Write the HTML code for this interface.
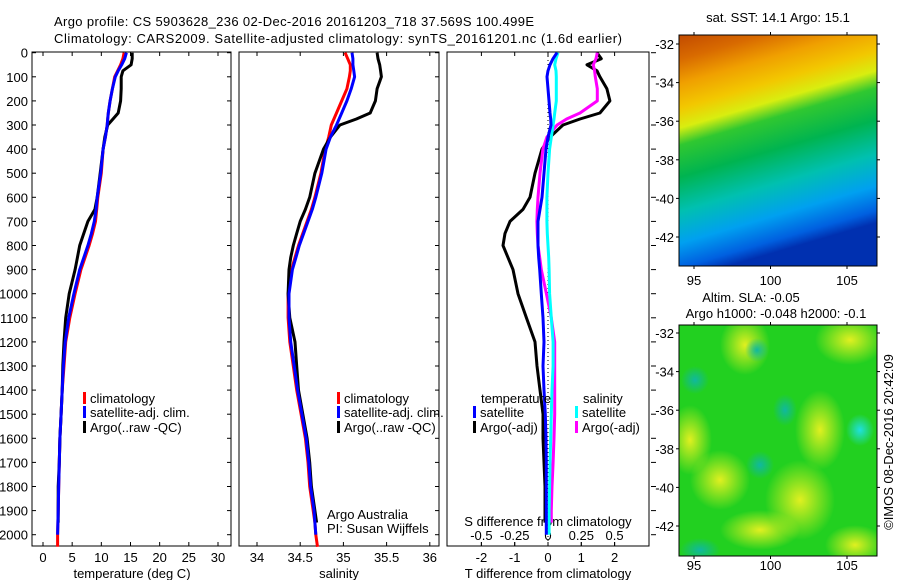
<!DOCTYPE html>
<html><head><meta charset="utf-8"><style>
body{margin:0;background:#fff;}
svg text{font-family:"Liberation Sans",sans-serif;font-size:13px;fill:#000;}
</style></head><body>
<svg id="c" width="900" height="580" viewBox="0 0 900 580" xmlns="http://www.w3.org/2000/svg">
<defs>
<linearGradient id="sst" x1="0" y1="0" x2="0.25" y2="1">
<stop offset="0" stop-color="#c24a00"/><stop offset="0.1" stop-color="#d86a00"/><stop offset="0.2" stop-color="#f0a000"/>
<stop offset="0.3" stop-color="#f2c800"/><stop offset="0.38" stop-color="#d8ee10"/><stop offset="0.45" stop-color="#30c830"/>
<stop offset="0.58" stop-color="#00b450"/><stop offset="0.72" stop-color="#00c0b0"/><stop offset="0.85" stop-color="#00a0f0"/>
<stop offset="0.95" stop-color="#0060e0"/><stop offset="1" stop-color="#0030b0"/>
</linearGradient>
<radialGradient id="yb"><stop offset="0" stop-color="#e0f020"/><stop offset="1" stop-color="#e0f020" stop-opacity="0"/></radialGradient>
<radialGradient id="tb"><stop offset="0" stop-color="#10b8a0"/><stop offset="1" stop-color="#10b8a0" stop-opacity="0"/></radialGradient>
<radialGradient id="cb"><stop offset="0" stop-color="#20e0e0"/><stop offset="1" stop-color="#20e0e0" stop-opacity="0"/></radialGradient>
<clipPath id="m2c"><rect x="679" y="325" width="198" height="231"/></clipPath>
</defs>
<text x="54" y="26" textLength="480">Argo profile: CS 5903628_236 02-Dec-2016 20161203_718 37.569S 100.499E</text>
<text x="54" y="43" textLength="568">Climatology: CARS2009. Satellite-adjusted climatology: synTS_20161201.nc (1.6d earlier)</text>
<g id="g"></g>
<g>
<text x="778" y="22" text-anchor="middle">sat. SST: 14.1 Argo: 15.1</text>
<rect x="679" y="35" width="198" height="231" fill="url(#sst)"/>
<rect x="679" y="35" width="198" height="231" fill="none" stroke="#000"/>
</g>
<g>
<text x="751" y="302" text-anchor="middle">Altim. SLA: -0.05</text>
<text x="776" y="318" text-anchor="middle">Argo h1000: -0.048 h2000: -0.1</text>
<g clip-path="url(#m2c)">
<rect x="679" y="325" width="198" height="231" fill="#22d020"/>
<ellipse cx="690" cy="440" rx="22" ry="35" fill="url(#yb)"/>
<ellipse cx="745" cy="345" rx="25" ry="30" fill="url(#yb)"/>
<ellipse cx="850" cy="340" rx="35" ry="25" fill="url(#yb)"/>
<ellipse cx="820" cy="430" rx="25" ry="40" fill="url(#yb)"/>
<ellipse cx="800" cy="500" rx="35" ry="40" fill="url(#yb)"/>
<ellipse cx="760" cy="530" rx="40" ry="20" fill="url(#yb)"/>
<ellipse cx="720" cy="480" rx="30" ry="30" fill="url(#yb)"/>
<ellipse cx="855" cy="545" rx="30" ry="20" fill="url(#yb)"/>
<ellipse cx="757" cy="350" rx="12" ry="12" fill="url(#tb)"/>
<ellipse cx="785" cy="410" rx="12" ry="16" fill="url(#tb)"/>
<ellipse cx="695" cy="380" rx="14" ry="14" fill="url(#tb)"/>
<ellipse cx="760" cy="465" rx="14" ry="14" fill="url(#tb)"/>
<ellipse cx="700" cy="550" rx="20" ry="12" fill="url(#tb)"/>
<ellipse cx="860" cy="430" rx="14" ry="16" fill="url(#cb)"/>
</g>
<rect x="679" y="325" width="198" height="231" fill="none" stroke="#000"/>
</g>
<text transform="translate(893,442) rotate(-90)" text-anchor="middle">©IMOS 08-Dec-2016 20:42:09</text>
</svg>
<script>
const depths=[0,25,50,75,100,150,200,250,275,300,350,400,500,600,650,700,750,800,850,900,1000,1100,1200,1300,1400,1500,1600,1700,1800,1900,1950,2000,2050];
const tClim=[13.9,13.7,13.3,12.8,12.3,11.9,11.5,11.2,11.1,11.0,10.7,10.3,10.0,9.4,9.2,9.0,8.5,7.9,7.2,6.5,5.5,4.6,3.9,3.6,3.3,3.1,2.9,2.8,2.7,2.6,2.55,2.5,2.5];
const tSat=[14.3,14.0,13.5,12.9,12.4,11.9,11.5,11.2,11.1,11.0,10.7,10.3,9.9,9.3,9.1,8.8,8.3,7.7,7.0,6.3,5.3,4.4,3.8,3.5,3.3,3.1,2.9,2.8,2.7,2.6,2.55,2.5,null];
const tArgo=[15.3,15.3,15.1,13.7,13.4,13.4,13.3,12.9,12.0,11.1,10.6,10.3,9.8,9.3,8.9,7.7,7.0,6.3,5.9,5.5,4.5,3.9,3.6,3.4,3.3,3.1,2.9,2.8,2.6,2.6,2.6,null,null];
const sClim=[35.02,35.05,35.08,35.08,35.07,35.04,34.98,34.92,34.89,34.86,34.83,34.79,34.74,34.67,34.63,34.58,34.53,34.48,34.44,34.40,34.36,34.36,34.38,34.42,34.46,34.51,34.56,34.59,34.61,34.65,34.67,34.68,34.70];
const sSat=[35.10,35.11,35.11,35.12,35.13,35.09,35.04,34.98,34.95,34.92,34.85,34.80,34.75,34.68,34.64,34.59,34.54,34.49,34.45,34.41,34.37,34.37,34.39,34.43,34.47,34.52,34.57,34.60,34.62,34.66,34.67,34.68,null];
const sArgo=[35.39,35.40,35.42,35.43,35.44,35.39,35.37,35.31,35.15,34.96,34.85,34.77,34.67,34.61,34.56,34.50,34.46,34.42,34.39,34.37,34.36,34.38,34.44,34.46,34.48,34.53,34.58,34.61,34.63,34.67,34.69,null,null];
const dTsat=[0.27,0.15,0.06,0.0,-0.03,0.0,0.03,0.06,0.08,0.09,0.0,-0.06,-0.12,-0.18,-0.24,-0.3,-0.3,-0.3,-0.28,-0.25,-0.2,-0.15,-0.12,-0.15,-0.12,-0.08,-0.06,-0.05,-0.05,-0.05,-0.05,-0.05,null];
const dTargo=[1.47,1.6,1.17,1.47,1.56,1.77,1.86,1.56,0.96,0.45,0.06,-0.18,-0.39,-0.54,-0.75,-1.14,-1.29,-1.35,-1.2,-1.05,-0.9,-0.65,-0.39,-0.33,-0.24,-0.15,-0.15,-0.12,-0.09,-0.09,-0.09,null,null];
const dSsat=[0.075,0.06,0.05,0.06,0.062,0.062,0.062,0.05,0.045,0.038,0.025,0.012,0,-0.008,-0.008,-0.008,-0.005,0,0.005,0.008,0.012,0.025,0.038,0.038,0.03,0.025,0.02,0.015,0.012,0.008,0.008,0.008,null];
const dSargo=[0.37,0.36,0.34,0.35,0.355,0.37,0.37,0.24,0.14,0.068,-0.008,-0.038,-0.06,-0.075,-0.08,-0.083,-0.08,-0.075,-0.062,-0.05,-0.012,0.025,0.05,0.05,0.05,0.05,0.045,0.038,0.03,0.025,0.025,null,null];
const depthTicks=[0,100,200,300,400,500,600,700,800,900,1000,1100,1200,1300,1400,1500,1600,1700,1800,1900,2000];
const tTicks=[0,5,10,15,20,25,30];
const sTicks=[34,34.5,35,35.5,36];
const dTTicks=[-2,-1,0,1,2];
const dSTicks=[-0.5,-0.25,0,0.25,0.5];
const NS='http://www.w3.org/2000/svg';
const g=document.getElementById('g');
function el(t,a,p){const e=document.createElementNS(NS,t);for(const k in a)e.setAttribute(k,a[k]);(p||g).appendChild(e);return e;}
const Y=d=>52.7+d*0.241;
const xT=v=>43+v*5.833;
const xS=v=>257+(v-34)*86.4;
const xD=v=>548+v*33.3;
const xDS=v=>548+v*4*33.3;
const panels=[[32,231],[239,439],[447,649]];
const pTop=52,pBot=546;
panels.forEach((p,i)=>{
  const r=el('rect',{x:p[0],y:pTop,width:p[1]-p[0],height:pBot-pTop,fill:'none',stroke:'#000','stroke-width':1});
  
  
  depthTicks.forEach(d=>{
    const t=el('line',{x1:i==2?p[1]+2:p[1]-4,x2:i==2?p[1]+7:p[1],y1:Y(d),y2:Y(d),stroke:'#000'});
    
    
    if(i==0){const l=el('line',{x1:p[0],x2:p[0]+4,y1:Y(d),y2:Y(d),stroke:'#000'});
      
      }
  });
});
depthTicks.forEach(d=>{
  const t=el('text',{x:28,y:Y(d)+5,'text-anchor':'end'});t.textContent=d;
  
  
});
function xAxis(ticks,fx,yLab,name){
  ticks.forEach(v=>{
    el('line',{x1:fx(v),x2:fx(v),y1:pBot,y2:pBot-4,stroke:'#000'});
    el('line',{x1:fx(v),x2:fx(v),y1:pTop,y2:pTop+4,stroke:'#000'});
    const t=el('text',{x:fx(v),y:yLab,'text-anchor':'middle'});t.textContent=v;
    
    
  });
}
xAxis(tTicks,xT,562,'temperature');
xAxis(sTicks,xS,562,'salinity');
xAxis(dTTicks,xD,562,'t-diff');
dSTicks.forEach(v=>{
  el('line',{x1:xDS(v),x2:xDS(v),y1:pBot,y2:pBot-4,stroke:'#000'});
  const t=el('text',{x:xDS(v),y:540,'text-anchor':'middle'});t.textContent=v;
  
  
});
function lbl(x,y,s,name,anc){const t=el('text',{x:x,y:y,'text-anchor':anc||'start'});t.textContent=s;
  
  return t;}
lbl(132,578,'temperature (deg C)','x-axis-title-temperature','middle');
lbl(339,578,'salinity','x-axis-title-salinity','middle');
lbl(548,578,'T difference from climatology','x-axis-title-t-diff','middle');
lbl(548,526,'S difference from climatology','x-axis-title-s-diff','middle');
lbl(327,519,'Argo Australia','credit-argo-australia');
lbl(327,533,'PI: Susan Wijffels','credit-pi');
const z=el('line',{x1:548,x2:548,y1:pTop,y2:pBot,stroke:'#000','stroke-dasharray':'1,3'});


function series(vals,fx,color,name){
  const pts=[];vals.forEach((v,i)=>{if(v!==null)pts.push(fx(v).toFixed(1)+','+Y(depths[i]).toFixed(1));});
  const p=el('polyline',{points:pts.join(' '),fill:'none',stroke:color,'stroke-width':3,'stroke-linejoin':'round'});
  
  
}
series(tClim,xT,'#ff0000','temp-climatology-line');
series(tArgo,xT,'#000','temp-argo-line');
series(tSat,xT,'#0000ff','temp-satellite-line');
series(sClim,xS,'#ff0000','sal-climatology-line');
series(sArgo,xS,'#000','sal-argo-line');
series(sSat,xS,'#0000ff','sal-satellite-line');
series(dTargo,xD,'#000','tdiff-argo-line');
series(dSargo,xDS,'#ff00ff','sdiff-argo-line');
series(dSsat,xDS,'#00ffff','sdiff-satellite-line');
series(dTsat,xD,'#0000ff','tdiff-satellite-line');
function leg(x,y,c,s,name){
  const m=el('rect',{x:x,y:y-11,width:3,height:12,fill:c});
  
  
  lbl(x+7,y,s,name);
}
leg(83,403,'#ff0000','climatology','legend-climatology');
leg(83,417,'#0000ff','satellite-adj. clim.','legend-satellite');
leg(83,432,'#000','Argo(..raw -QC)','legend-argo');
leg(337,403,'#ff0000','climatology','legend2-climatology');
leg(337,417,'#0000ff','satellite-adj. clim.','legend2-satellite');
leg(337,432,'#000','Argo(..raw -QC)','legend2-argo');
lbl(481,403,'temperature','legend3-temperature-header');
lbl(583,403,'salinity','legend3-salinity-header');
leg(473,417,'#0000ff','satellite','legend3-t-satellite');
leg(473,432,'#000','Argo(-adj)','legend3-t-argo');
leg(575,417,'#00ffff','satellite','legend3-s-satellite');
leg(575,432,'#ff00ff','Argo(-adj)','legend3-s-argo');
const latTicks=[-32,-34,-36,-38,-40,-42];
const lonTicks=[95,100,105];
[[35,266,44,285],[325,556,333,570]].forEach((m,k)=>{
  latTicks.forEach(v=>{
    const y=m[2]+(-32-v)*19.3;
    el('line',{x1:676,x2:679,y1:y,y2:y,stroke:'#000'});
    el('line',{x1:877,x2:880,y1:y,y2:y,stroke:'#000'});
    const t=el('text',{x:674,y:y+5,'text-anchor':'end'});t.textContent=v;
    
    
  });
  lonTicks.forEach(v=>{
    const x=694+(v-95)*15.3;
    el('line',{x1:x,x2:x,y1:m[1],y2:m[1]+3,stroke:'#000'});
    el('line',{x1:x,x2:x,y1:m[0]-3,y2:m[0],stroke:'#000'});
    const t=el('text',{x:x,y:m[3],'text-anchor':'middle'});t.textContent=v;
    
    
  });
});
</script>
</body></html>
